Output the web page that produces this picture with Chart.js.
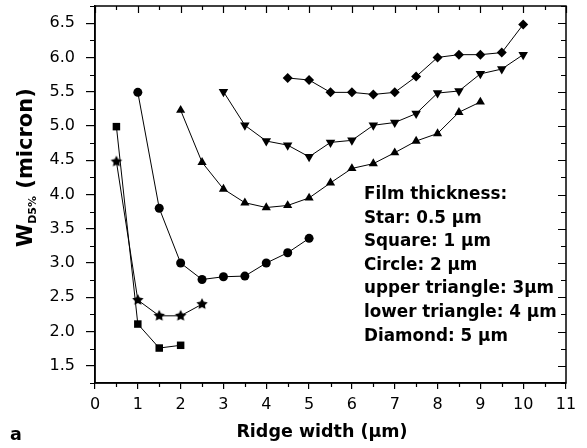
<!DOCTYPE html>
<html>
<head>
<meta charset="utf-8">
<script src="https://cdn.jsdelivr.net/npm/chart.js@4.4.0/dist/chart.umd.min.js"></script>
<style>
  html, body { margin: 0; padding: 0; background: #fff; }
</style>
</head>
<body>
<canvas id="ridgeChart" width="587" height="448"></canvas>
<script>
// W_D5% against ridge width, one curve per film thickness
const starX = [0.5, 1, 1.5, 2, 2.5];
const starY = [4.48, 2.46, 2.23, 2.23, 2.40];

const squareX = [0.5, 1, 1.5, 2];
const squareY = [4.99, 2.11, 1.76, 1.80];

const circleX = [1, 1.5, 2, 2.5, 3, 3.5, 4, 4.5, 5];
const circleY = [5.49, 3.80, 3.00, 2.76, 2.80, 2.81, 3.00, 3.15, 3.36];

const upTriX = [2, 2.5, 3, 3.5, 4, 4.5, 5, 5.5, 6, 6.5, 7, 7.5, 8, 8.5, 9];
const upTriY = [5.23, 4.47, 4.08, 3.88, 3.81, 3.84, 3.95, 4.17, 4.38, 4.45, 4.61, 4.78, 4.89, 5.20, 5.35];

const downTriX = [3, 3.5, 4, 4.5, 5, 5.5, 6, 6.5, 7, 7.5, 8, 8.5, 9, 9.5, 10];
const downTriY = [5.50, 5.01, 4.78, 4.72, 4.55, 4.76, 4.79, 5.01, 5.05, 5.18, 5.48, 5.51, 5.76, 5.83, 6.04];

const diamondX = [4.5, 5, 5.5, 6, 6.5, 7, 7.5, 8, 8.5, 9, 9.5, 10];
const diamondY = [5.70, 5.67, 5.49, 5.49, 5.46, 5.49, 5.72, 6.00, 6.04, 6.04, 6.07, 6.48];

const xTicks = [0, 1, 2, 3, 4, 5, 6, 7, 8, 9, 10, 11];
const yTicks = [1.5, 2.0, 2.5, 3.0, 3.5, 4.0, 4.5, 5.0, 5.5, 6.0, 6.5];

const noteLines = [
  "Film thickness:",
  "Star: 0.5 \u03bcm",
  "Square: 1 \u03bcm",
  "Circle: 2 \u03bcm",
  "upper triangle: 3\u03bcm",
  "lower triangle: 4 \u03bcm",
  "Diamond: 5 \u03bcm",
];

const FONT = "'DejaVu Sans', sans-serif";

function toPoints(xs, ys) {
  return xs.map((x, i) => ({ x: x, y: ys[i] }));
}

// filled five-point star, used as a point style
function starImage(r) {
  const c = document.createElement("canvas");
  const s = Math.ceil(r * 2) + 2;
  c.width = c.height = s;
  const g = c.getContext("2d");
  g.fillStyle = "#000";
  g.beginPath();
  for (let i = 0; i < 10; i++) {
    const rad = i % 2 ? r * 0.5 : r;
    const ang = -Math.PI / 2 + (i * Math.PI) / 5;
    g.lineTo(s / 2 + rad * Math.cos(ang), s / 2 + rad * Math.sin(ang));
  }
  g.closePath();
  g.fill();
  return c;
}

function series(xs, ys, style, radius, rotation) {
  return {
    data: toPoints(xs, ys),
    showLine: true,
    borderColor: "#000",
    borderWidth: 1,
    backgroundColor: "#000",
    pointBackgroundColor: "#000",
    pointBorderColor: "#000",
    pointBorderWidth: 0,
    pointStyle: style,
    pointRadius: radius,
    pointRotation: rotation || 0,
    pointHoverRadius: radius,
  };
}

// no extra room for the end labels, the frame is placed by hand
function noScalePadding(scale) {
  scale.paddingTop = 0;
  scale.paddingBottom = 0;
  scale.paddingLeft = 0;
  scale.paddingRight = 0;
}

// frame, minor ticks, inward ticks on top/right, titles and the note
const decorations = {
  id: "decorations",
  afterDraw(chart) {
    const { ctx, chartArea: a, scales } = chart;
    const x = scales.x;
    const y = scales.y;
    ctx.save();
    ctx.strokeStyle = "#000";
    ctx.lineWidth = 1.5;
    ctx.strokeRect(a.left, a.top, a.right - a.left, a.bottom - a.top);

    ctx.lineWidth = 1.2;
    ctx.beginPath();
    for (let v = 0; v <= 11.001; v += 0.5) {
      const px = Math.round(x.getPixelForValue(v)) + 0.5;
      const major = Math.abs(v - Math.round(v)) < 0.01;
      if (!major) {
        ctx.moveTo(px, a.bottom);
        ctx.lineTo(px, a.bottom + 4);
      }
      ctx.moveTo(px, a.top);
      ctx.lineTo(px, a.top + (major ? 7 : 4));
    }
    for (let v = 1.25; v <= 6.751; v += 0.25) {
      const py = Math.round(y.getPixelForValue(v)) + 0.5;
      const major = Math.abs(v * 2 - Math.round(v * 2)) < 0.01;
      if (!major) {
        ctx.moveTo(a.left, py);
        ctx.lineTo(a.left - 5, py);
      }
      ctx.moveTo(a.right, py);
      ctx.lineTo(a.right - (major ? 8 : 5), py);
    }
    ctx.stroke();

    ctx.fillStyle = "#000";

    // x title
    ctx.font = "bold 17.5px " + FONT;
    ctx.textAlign = "center";
    ctx.textBaseline = "alphabetic";
    ctx.fillText("Ridge width (\u03bcm)", 322, 437);

    // panel letter
    ctx.textAlign = "left";
    ctx.fillText("a", 10, 440);

    // y title with subscript
    ctx.translate(32, 247);
    ctx.rotate(-Math.PI / 2);
    ctx.textAlign = "left";
    ctx.font = "bold 21px " + FONT;
    ctx.fillText("W", 0, 0);
    let off = ctx.measureText("W").width;
    ctx.font = "bold 11px " + FONT;
    ctx.fillText("D5%", off, 4);
    off += ctx.measureText("D5%").width;
    ctx.font = "bold 21px " + FONT;
    ctx.fillText(" (micron)", off, 0);
    ctx.setTransform(1, 0, 0, 1, 0, 0);

    // film thickness note
    ctx.font = "bold 16.8px " + FONT;
    ctx.textAlign = "left";
    noteLines.forEach((t, i) => {
      ctx.fillText(t, 364, 199 + i * 23.6);
    });
    ctx.restore();
  },
};

const ctx = document.getElementById("ridgeChart").getContext("2d");

const config = {
  type: "scatter",
  data: {
    datasets: [
      series(starX, starY, starImage(6), 6),
      series(squareX, squareY, "rect", 5.3),
      series(circleX, circleY, "circle", 4.5),
      series(upTriX, upTriY, "triangle", 5.3),
      series(downTriX, downTriY, "triangle", 5.5, 180),
      series(diamondX, diamondY, "rectRot", 5),
    ],
  },
  options: {
    responsive: false,
    animation: false,
    devicePixelRatio: 1,
    layout: { padding: { top: 5, right: 21, left: 0, bottom: 0 } },
    plugins: {
      legend: { display: false },
      tooltip: { enabled: false },
    },
    scales: {
      x: {
        type: "linear",
        min: 0,
        max: 11,
        afterBuildTicks: (scale) => {
          scale.ticks = xTicks.map((v) => ({ value: v }));
        },
        afterFit: (scale) => {
          scale.height = 65;
          noScalePadding(scale);
        },
        ticks: {
          color: "#000",
          font: { family: FONT, size: 16 },
          padding: 6,
          maxRotation: 0,
          autoSkip: false,
        },
        grid: {
          drawOnChartArea: false,
          tickLength: 6,
          color: "#000",
          lineWidth: 1.2,
        },
        border: { color: "#000", width: 1.5 },
      },
      y: {
        type: "linear",
        min: 1.25,
        max: 6.75,
        afterBuildTicks: (scale) => {
          scale.ticks = yTicks.map((v) => ({ value: v }));
        },
        afterFit: (scale) => {
          scale.width = 95;
          noScalePadding(scale);
        },
        ticks: {
          color: "#000",
          font: { family: FONT, size: 16 },
          padding: 11,
          callback: (v) => v.toFixed(1),
        },
        grid: {
          drawOnChartArea: false,
          tickLength: 9,
          color: "#000",
          lineWidth: 1.2,
        },
        border: { color: "#000", width: 1.5 },
      },
    },
  },
  plugins: [decorations],
};

const ridgeChart = new Chart(ctx, config);
</script>
</body>
</html>
